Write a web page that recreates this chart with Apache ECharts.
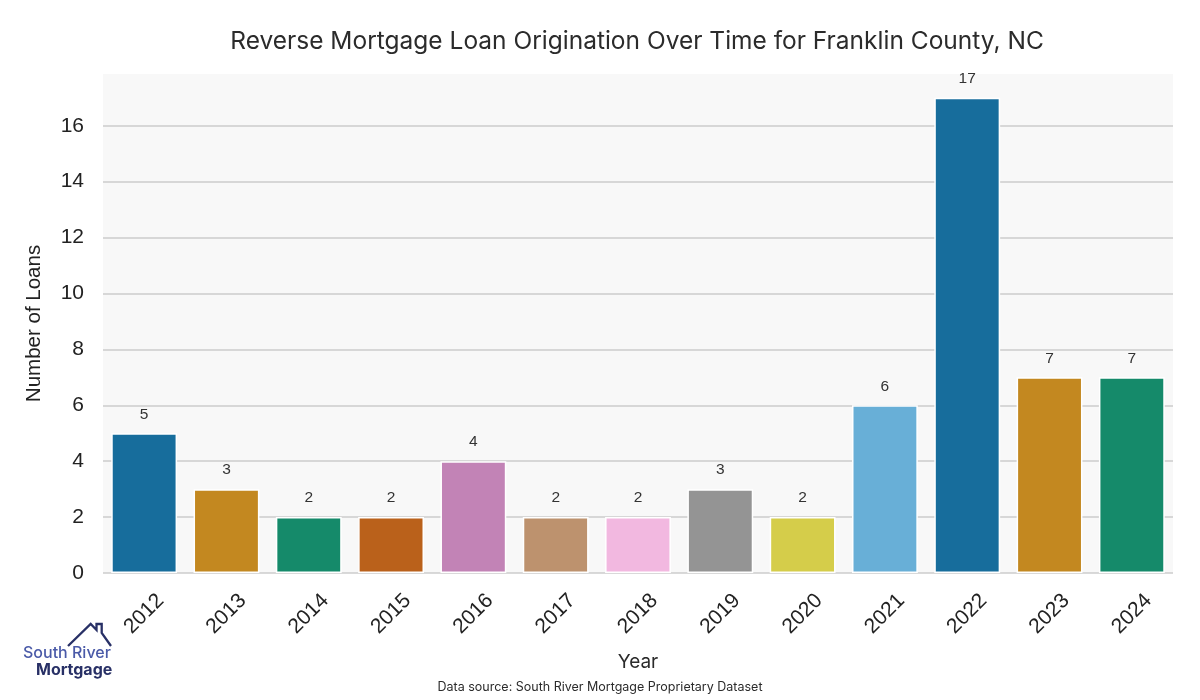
<!DOCTYPE html>
<html>
<head>
<meta charset="utf-8">
<script src="https://cdn.jsdelivr.net/npm/echarts@6/dist/echarts.min.js"></script>
<style>html,body{margin:0;padding:0;background:#fff}#c{width:1200px;height:700px}</style>
</head>
<body>
<div id="c"></div>
<script>
const years = ['2012','2013','2014','2015','2016','2017','2018','2019','2020','2021','2022','2023','2024'];
const loans = [5, 3, 2, 2, 4, 2, 2, 3, 2, 6, 17, 7, 7];
const barColors = ['#176d9c','#c38820','#158a6a','#ba611b','#c283b6','#bd926e','#f2b8e0','#949494','#d5cd4a','#68afd7','#176d9c','#c38820','#158a6a'];
const yTicks = [0, 2, 4, 6, 8, 10, 12, 14, 16];

const titleFont = 'Inter, Lato, sans-serif';
const tickFont = '"Liberation Sans", Arial, sans-serif';

const chart = echarts.init(document.getElementById('c'), null, {renderer: 'canvas'});
chart.setOption({
  animation: false,
  backgroundColor: '#ffffff',
  title: {
    text: 'Reverse Mortgage Loan Origination Over Time for Franklin County, NC',
    left: 632, top: 24, textAlign: 'center',
    textStyle: {fontFamily: titleFont, fontSize: 24.5, fontWeight: 'normal', color: '#2b2b2b'}
  },
  grid: {left: 103, right: 27, top: 74, bottom: 127, show: true, backgroundColor: '#f8f8f8', borderWidth: 0},
  xAxis: {
    type: 'category', data: years,
    name: 'Year', nameLocation: 'middle', nameGap: 80,
    nameTextStyle: {fontFamily: titleFont, fontSize: 19, color: '#2b2b2b'},
    axisLine: {show: false}, axisTick: {show: false},
    axisLabel: {rotate: 45, align: 'center', verticalAlign: 'middle', margin: 41, interval: 0,
      fontFamily: tickFont, fontSize: 21, color: '#222'}
  },
  yAxis: {
    type: 'value', min: 0, max: 17.85, interval: 2,
    name: 'Number of Loans', nameLocation: 'middle', nameGap: 58,
    nameTextStyle: {fontFamily: tickFont, fontSize: 20.5, color: '#222'},
    axisLine: {show: false}, axisTick: {show: false},
    axisLabel: {margin: 19, fontFamily: tickFont, fontSize: 21, color: '#222', showMaxLabel: false,
      formatter: v => (yTicks.indexOf(v) >= 0 ? String(v) : '')},
    splitLine: {show: true, showMaxLine: false, lineStyle: {color: '#cccccc', width: 1.6}}
  },
  series: [{
    type: 'bar',
    data: loans.map((v, i) => ({value: v, itemStyle: {color: barColors[i]}})),
    barCategoryGap: '20%',
    itemStyle: {borderColor: '#ffffff', borderWidth: 1.5},
    label: {show: true, position: 'top', distance: 11, fontFamily: tickFont, fontSize: 15.5, color: '#333'}
  }],
  graphic: [
    {type: 'text', left: 'center', top: 681,
      style: {text: 'Data source: South River Mortgage Proprietary Dataset', fontFamily: titleFont, fontSize: 12.5, fill: '#2b2b2b'}},
    {type: 'polyline', shape: {points: [[68,646],[90.7,624],[96.5,630],[96.5,624],[101.7,624],[101.7,633],[111,646]]},
      style: {stroke: '#283066', lineWidth: 2.3, fill: null}},
    {type: 'text', x: 23, y: 645,
      style: {text: 'South River', fontFamily: titleFont, fontSize: 16, fontWeight: 500, fill: '#4a5aa8'}},
    {type: 'text', x: 36, y: 662,
      style: {text: 'Mortgage', fontFamily: titleFont, fontSize: 16, fontWeight: 700, fill: '#283066'}}
  ]
});
</script>
</body>
</html>
